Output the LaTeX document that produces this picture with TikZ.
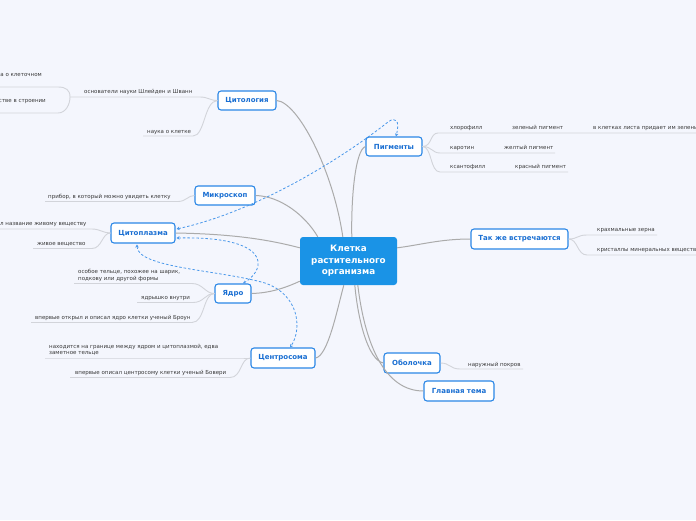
\documentclass[tikz,border=0pt]{standalone}
\usepackage{fontspec}
\setmainfont{DejaVu Sans}
\usetikzlibrary{arrows.meta,calc}
\definecolor{bg}{HTML}{F4F6FD}
\definecolor{nodeblue}{HTML}{2B87E6}
\definecolor{textblue}{HTML}{1A6FD2}
\definecolor{centerfill}{HTML}{1A93E6}
\definecolor{mainline}{HTML}{ABABAB}
\definecolor{leafline}{HTML}{D2D4DA}
\definecolor{leaftext}{HTML}{3A3A3A}
\definecolor{relblue}{HTML}{4A98EA}
\tikzset{
  branch/.style={draw=nodeblue, line width=1.1pt, fill=white, rounded corners=3pt, text=textblue,
    font=\fontsize{7}{8}\selectfont\bfseries, inner sep=0pt, minimum height=19pt},
  centerbox/.style={fill=centerfill, rounded corners=3pt, text=white,
    font=\fontsize{8.8}{11.5}\selectfont\bfseries, align=center, minimum width=97pt, minimum height=48pt, inner sep=0pt},
  leaf/.style={text=leaftext, font=\fontsize{5.5}{6.6}\selectfont, inner sep=0pt, anchor=base west},
  mainconn/.style={draw=mainline, line width=1pt},
  leafconn/.style={draw=leafline, line width=0.9pt},
  rel/.style={draw=relblue, line width=0.8pt, dash pattern=on 2.5pt off 2pt,
    {Stealth[length=3pt,width=3.5pt]}-{Stealth[length=3pt,width=3.5pt]}}
}
\begin{document}
\begin{tikzpicture}[x=1pt,y=-1pt]
\path[use as bounding box, fill=bg] (0,0) rectangle (696,520);

% main nodes
\node[centerbox] (center) at (348.5,261) {Клетка\\растительного\\организма};
\node[branch, minimum width=58pt] (cyt) at (247,100.5) {Цитология};
\node[branch, minimum width=56pt] (pig) at (394,146.5) {Пигменты};
\node[branch, minimum width=60pt] (mic) at (225,195.5) {Микроскоп};
\node[branch, minimum width=64pt, minimum height=20pt] (cpl) at (143,233) {Цитоплазма};
\node[branch, minimum width=36pt] (yad) at (233,293.5) {Ядро};
\node[branch, minimum width=64pt, minimum height=20pt] (cen) at (283,358) {Центросома};
\node[branch, minimum width=97pt, minimum height=20pt] (tak) at (519.5,239) {Так же встречаются};
\node[branch, minimum width=56pt, minimum height=20pt] (obo) at (412,363) {Оболочка};
\node[branch, minimum width=70pt, minimum height=20pt] (glav) at (459,391) {Главная тема};

% main connectors
\draw[mainconn] (cyt.east) .. controls (298,102) and (333,170) .. ($(center.north west)+(43,0)$);
\draw[mainconn] (pig.west) .. controls (355,150) and (351,200) .. ($(center.north west)+(52,0)$);
\draw[mainconn] (mic.east) .. controls (280,196) and (305,215) .. ($(center.north west)+(18,0)$);
\draw[mainconn] (cpl.east) .. controls (235,234) and (270,240) .. ($(center.north west)+(0,11)$);
\draw[mainconn] (yad.east) .. controls (270,293) and (285,288) .. ($(center.south west)+(0,-4)$);
\draw[mainconn] (cen.east) .. controls (328,356) and (337,310) .. ($(center.south west)+(44,0)$);
\draw[mainconn] (tak.west) .. controls (440,239) and (420,245) .. ($(center.north east)+(0,11)$);
\draw[mainconn] ($(center.south west)+(55,0)$) .. controls (358,320) and (368,360) .. (obo.west);
\draw[mainconn] ($(center.south west)+(58,0)$) .. controls (365,345) and (385,391) .. (glav.west);

% leaf coordinates
\coordinate (c1a) at (70,97);   \coordinate (c1b) at (200,97);
\coordinate (c2a) at (143,136); \coordinate (c2b) at (193,136);
\coordinate (k1) at (0,87);     \coordinate (k2) at (0,113);
\coordinate (m1a) at (45,201.5); \coordinate (m1b) at (178,201.5);
\coordinate (p1a) at (0,229);   \coordinate (p1b) at (92,229);
\coordinate (p2a) at (33,248.5); \coordinate (p2b) at (92,248.5);
\coordinate (y1a) at (74,283.5); \coordinate (y1b) at (192,283.5);
\coordinate (y2a) at (137,302.5); \coordinate (y2b) at (193,302.5);
\coordinate (y3a) at (31,322.5); \coordinate (y3b) at (192,322.5);
\coordinate (z1a) at (45,358);  \coordinate (z1b) at (238,358);
\coordinate (z2a) at (70,377.5); \coordinate (z2b) at (230,377.5);
\coordinate (g1a) at (438,133); \coordinate (g1b) at (696,133);
\coordinate (g2a) at (440,153); \coordinate (g2b) at (555,153);
\coordinate (g3a) at (440,172); \coordinate (g3b) at (568,172);
\coordinate (t1a) at (587,235); \coordinate (t1b) at (657,235);
\coordinate (t2a) at (587,255); \coordinate (t2b) at (696,255);
\coordinate (o1a) at (460,369); \coordinate (o1b) at (523,369);

% leaf connectors
\draw[leafconn] (c1a) -- (c1b) .. controls (208,97) and (210,100.5) .. (cyt.west);
\draw[leafconn] (c2a) -- (c2b) .. controls (205,136) and (204,101) .. (cyt.west);
\draw[leafconn] (c1a) .. controls (70,90) and (66,87) .. (58,87) -- (k1);
\draw[leafconn] (c1a) .. controls (70,104) and (66,113) .. (58,113) -- (k2);
\draw[leafconn] (m1a) -- (m1b) .. controls (186,201.5) and (188,195.5) .. (mic.west);
\draw[leafconn] (p1a) -- (p1b) .. controls (100,229) and (103,233) .. (cpl.west);
\draw[leafconn] (p2a) -- (p2b) .. controls (102,248.5) and (102,233) .. (cpl.west);
\draw[leafconn] (y1a) -- (y1b) .. controls (203,283.5) and (205,293.5) .. (yad.west);
\draw[leafconn] (y2a) -- (y2b) .. controls (204,302.5) and (205,293.5) .. (yad.west);
\draw[leafconn] (y3a) -- (y3b) .. controls (205,322.5) and (203,293.5) .. (yad.west);
\draw[leafconn] (z1a) -- (z1b) -- (cen.west);
\draw[leafconn] (z2a) -- (z2b) .. controls (242,377.5) and (240,358) .. (cen.west);
\draw[leafconn] (pig.east) .. controls (432,146.5) and (430,133) .. (g1a) -- (g1b);
\draw[leafconn] (pig.east) .. controls (432,146.5) and (432,153) .. (g2a) -- (g2b);
\draw[leafconn] (pig.east) .. controls (432,146.5) and (430,172) .. (g3a) -- (g3b);
\draw[leafconn] (tak.east) .. controls (578,239) and (577,235) .. (t1a) -- (t1b);
\draw[leafconn] (tak.east) .. controls (578,239) and (577,255) .. (t2a) -- (t2b);
\draw[leafconn] (obo.east) .. controls (450,363) and (450,369) .. (o1a) -- (o1b);

% leaf texts
\node[leaf, anchor=base east] (lt1) at (42,76) {а о клеточном};
\node[leaf, anchor=base east] (lt2) at (46,102) {стве в строении};
\node[leaf] (lt3) at (84,93) {основатели науки Шлейден и Шванн};
\node[leaf] (lt4) at (147,133) {наука о клетке};
\node[leaf] (lm) at (48,198) {прибор, в который можно увидеть клетку};
\node[leaf] (lp1) at (0,225) {л название живому веществу};
\node[leaf] (lp2) at (37,245) {живое вещество};
\node[leaf, anchor=west, align=left] (ly1) at (78,275.3) {особое тельце, похожее на шарик,\\подкову или другой формы};
\node[leaf] (ly2) at (141,299) {ядрышко внутри};
\node[leaf] (ly3) at (35,319.5) {впервые открыл и описал ядро клетки ученый Броун};
\node[leaf, anchor=west, align=left] (lz1) at (49,349.9) {находится на границе между ядром и цитоплазмой, едва\\заметное тельце};
\node[leaf] (lz2) at (75,374) {впервые описал центросому клетки ученый Бовери};
\node[leaf] (lg1) at (450,129) {хлорофилл};
\node[leaf] (lg1b) at (512,129) {зеленый пигмент};
\node[leaf] (lg1c) at (593,129) {в клетках листа придает им зелены};
\node[leaf] (lg2) at (450,149) {каротин};
\node[leaf] (lg2b) at (504,149) {желтый пигмент};
\node[leaf] (lg3) at (450,168) {ксантофилл};
\node[leaf] (lg3b) at (515,168) {красный пигмент};
\node[leaf] (lt5) at (597,231.5) {крахмальные зерна};
\node[leaf] (lt6) at (597,251.5) {кристаллы минеральных веществ};
\node[leaf] (lo1) at (468,366) {наружный покров};

% relationships
\draw[rel] ($(cpl.east)+(1,-4)$) .. controls (255,212) and (340,160) .. (388,122) .. controls (396,116) and (400,121) .. ($(pig.north)+(2,0)$);
\draw[rel] ($(cpl.east)+(1,5)$) .. controls (270,236) and (268,268) .. ($(yad.north)+(10,0)$);
\draw[rel] ($(cpl.south)+(-6,1)$) .. controls (137,268) and (220,270) .. (265,283) .. controls (300,295) and (302,330) .. ($(cen.north)+(7,0)$);
\end{tikzpicture}
\end{document}
